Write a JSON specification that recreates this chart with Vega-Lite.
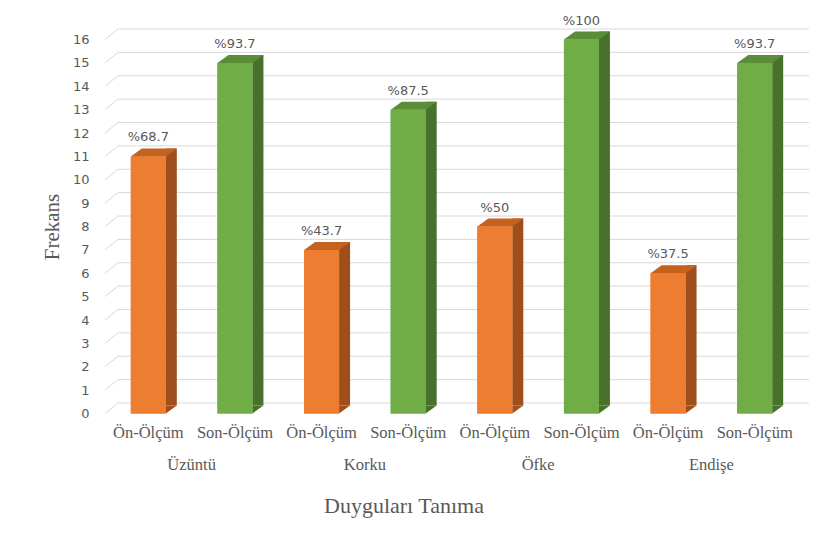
{
  "$schema": "https://vega.github.io/schema/vega-lite/v6.json",
  "width": 693,
  "height": 374,
  "autosize": {"type": "none"},
  "padding": {"left": 105, "top": 39.5, "right": 28, "bottom": 119.5},
  "background": "white",
  "config": {
    "view": {"stroke": null},
    "axisY": {"labelOverlap": false, "domain": false, "ticks": false, "grid": false,
              "labelFont": "DejaVu Sans", "labelFontSize": 13, "labelColor": "#595959", "labelPadding": 16}
  },
  "datasets": {
    "olcumler": [
      {"duygu": "Üzüntü", "olcum": "Ön-Ölçüm", "anahtar": "Üzüntü|Ön-Ölçüm", "frekans": 11, "etiket": "%68.7"},
      {"duygu": "Üzüntü", "olcum": "Son-Ölçüm", "anahtar": "Üzüntü|Son-Ölçüm", "frekans": 15, "etiket": "%93.7"},
      {"duygu": "Korku", "olcum": "Ön-Ölçüm", "anahtar": "Korku|Ön-Ölçüm", "frekans": 7, "etiket": "%43.7"},
      {"duygu": "Korku", "olcum": "Son-Ölçüm", "anahtar": "Korku|Son-Ölçüm", "frekans": 13, "etiket": "%87.5"},
      {"duygu": "Öfke", "olcum": "Ön-Ölçüm", "anahtar": "Öfke|Ön-Ölçüm", "frekans": 8, "etiket": "%50"},
      {"duygu": "Öfke", "olcum": "Son-Ölçüm", "anahtar": "Öfke|Son-Ölçüm", "frekans": 16, "etiket": "%100"},
      {"duygu": "Endişe", "olcum": "Ön-Ölçüm", "anahtar": "Endişe|Ön-Ölçüm", "frekans": 6, "etiket": "%37.5"},
      {"duygu": "Endişe", "olcum": "Son-Ölçüm", "anahtar": "Endişe|Son-Ölçüm", "frekans": 15, "etiket": "%93.7"}
    ],
    "izgara": [
      {"deger": 0}, {"deger": 1}, {"deger": 2}, {"deger": 3}, {"deger": 4},
      {"deger": 5}, {"deger": 6}, {"deger": 7}, {"deger": 8}, {"deger": 9},
      {"deger": 10}, {"deger": 11}, {"deger": 12}, {"deger": 13}, {"deger": 14},
      {"deger": 15}, {"deger": 16}
    ]
  },
  "resolve": {"scale": {"x": "independent"}, "axis": {"x": "independent"}},
  "layer": [
    {
      "description": "Back-wall gridlines with the slanted floor edge on the left",
      "data": {"name": "izgara"},
      "mark": {
        "type": "point",
        "shape": "M-346.5,0L-333.5,-10.5L357.5,-10.5",
        "size": 4,
        "filled": false,
        "stroke": "#d9d9d9",
        "strokeWidth": 1,
        "opacity": 1
      },
      "encoding": {
        "y": {"field": "deger", "type": "quantitative", "scale": {"domain": [0, 16], "nice": false},
              "axis": {"values": [0,1,2,3,4,5,6,7,8,9,10,11,12,13,14,15,16], "title": "Frekans", "titleFont": "Liberation Serif",
                       "titleFontSize": 21, "titleFontWeight": "normal", "titleColor": "#595959",
                       "titleX": -53, "titleY": 187, "titleAngle": 270, "titleAlign": "center", "titleBaseline": "middle"}}
      }
    },
    {
      "data": {"name": "olcumler"},
      "layer": [
        {
          "description": "Front faces of the columns; carries the measurement axis",
          "mark": {"type": "bar", "width": 35},
          "encoding": {
            "x": {"field": "anahtar", "type": "nominal", "sort": null,
                  "scale": {"type": "band", "paddingInner": 0, "paddingOuter": 0},
                  "axis": {"title": null, "domain": false, "ticks": false, "grid": false,
                           "labelExpr": "split(datum.label, '|')[1]", "labelAngle": 0,
                           "labelFont": "Liberation Serif", "labelFontSize": 16.5, "labelColor": "#595959",
                           "labelPadding": 11}},
            "y": {"field": "frekans", "type": "quantitative", "axis": {"values": [0,1,2,3,4,5,6,7,8,9,10,11,12,13,14,15,16]}},
            "y2": {"datum": 0},
            "color": {"field": "olcum", "type": "nominal", "legend": null,
                      "scale": {"domain": ["Ön-Ölçüm", "Son-Ölçüm"], "range": ["#ed7d31", "#70ad47"]}}
          }
        },
        {
          "description": "Side faces of the columns",
          "mark": {"type": "bar", "width": 11, "xOffset": 23, "yOffset": -8, "y2Offset": -8},
          "encoding": {
            "x": {"field": "anahtar", "type": "nominal", "sort": null, "title": null},
            "y": {"field": "frekans", "type": "quantitative", "axis": {"values": [0,1,2,3,4,5,6,7,8,9,10,11,12,13,14,15,16]}},
            "y2": {"datum": 0},
            "color": {"field": "olcum", "type": "nominal", "legend": null,
                      "scale": {"domain": ["Ön-Ölçüm", "Son-Ölçüm"], "range": ["#9f4f1c", "#48722b"]}}
          }
        },
        {
          "description": "Lower corner of the side faces",
          "mark": {"type": "point", "shape": "M17.5,-8L17.5,0L28.5,-8Z", "size": 4, "filled": true, "opacity": 1, "strokeWidth": 0},
          "encoding": {
            "x": {"field": "anahtar", "type": "nominal", "sort": null, "title": null},
            "y": {"datum": 0, "type": "quantitative", "axis": {"values": [0,1,2,3,4,5,6,7,8,9,10,11,12,13,14,15,16]}},
            "color": {"field": "olcum", "type": "nominal", "legend": null,
                      "scale": {"domain": ["Ön-Ölçüm", "Son-Ölçüm"], "range": ["#9f4f1c", "#48722b"]}}
          }
        },
        {
          "description": "Front faces redrawn over the side-face corners",
          "mark": {"type": "bar", "width": 35},
          "encoding": {
            "x": {"field": "anahtar", "type": "nominal", "sort": null, "title": null},
            "y": {"field": "frekans", "type": "quantitative", "axis": {"values": [0,1,2,3,4,5,6,7,8,9,10,11,12,13,14,15,16]}},
            "y2": {"datum": 0},
            "color": {"field": "olcum", "type": "nominal", "legend": null,
                      "scale": {"domain": ["Ön-Ölçüm", "Son-Ölçüm"], "range": ["#ed7d31", "#70ad47"]}}
          }
        },
        {
          "description": "Top faces of the columns",
          "mark": {"type": "point", "shape": "M-17.5,0L17.5,0L28.5,-8L-6.5,-8Z", "size": 4, "filled": true, "opacity": 1, "strokeWidth": 0},
          "encoding": {
            "x": {"field": "anahtar", "type": "nominal", "sort": null, "title": null},
            "y": {"field": "frekans", "type": "quantitative", "axis": {"values": [0,1,2,3,4,5,6,7,8,9,10,11,12,13,14,15,16]}},
            "color": {"field": "olcum", "type": "nominal", "legend": null,
                      "scale": {"domain": ["Ön-Ölçüm", "Son-Ölçüm"], "range": ["#c5621f", "#5b8d39"]}}
          }
        },
        {
          "description": "Percentage labels",
          "mark": {"type": "text", "dy": -19, "baseline": "middle", "font": "DejaVu Sans", "fontSize": 13, "color": "#595959"},
          "encoding": {
            "x": {"field": "anahtar", "type": "nominal", "sort": null, "title": null},
            "y": {"field": "frekans", "type": "quantitative", "axis": {"values": [0,1,2,3,4,5,6,7,8,9,10,11,12,13,14,15,16]}},
            "text": {"field": "etiket"}
          }
        }
      ],
      "resolve": {"scale": {"color": "independent"}}
    },
    {
      "description": "Emotion group labels under the measurement labels",
      "data": {"name": "olcumler"},
      "mark": {"type": "tick", "opacity": 0},
      "encoding": {
        "x": {"field": "duygu", "type": "nominal", "sort": null,
              "scale": {"type": "band", "paddingInner": 0, "paddingOuter": 0},
              "axis": {"orient": "bottom", "domain": false, "ticks": false, "grid": false, "labelAngle": 0,
                       "labelFont": "Liberation Serif", "labelFontSize": 16.5, "labelColor": "#595959",
                       "labelPadding": 43, "title": "Duyguları Tanıma", "titleFont": "Liberation Serif",
                       "titleFontSize": 22, "titleFontWeight": "normal", "titleColor": "#595959",
                       "titleX": 298.5, "titleY": 92, "titleAlign": "center", "titleBaseline": "middle"}},
        "y": {"field": "frekans", "type": "quantitative", "axis": {"values": [0,1,2,3,4,5,6,7,8,9,10,11,12,13,14,15,16]}}
      }
    }
  ]
}
